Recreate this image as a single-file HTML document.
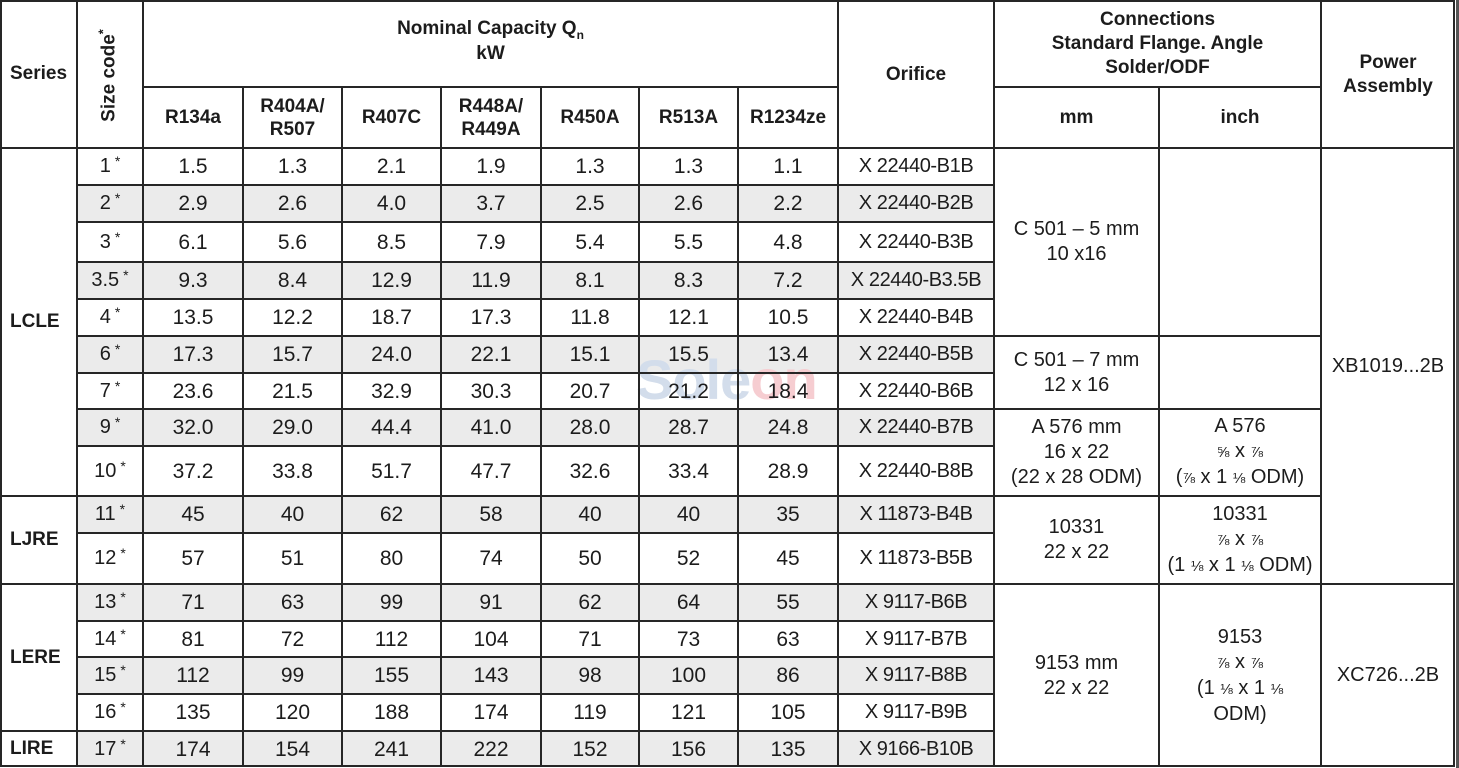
<!DOCTYPE html>
<html><head><meta charset="utf-8">
<style>
html,body{margin:0;padding:0}
body{width:1459px;height:768px;background:#fff;position:relative;overflow:hidden;font-family:"Liberation Sans",sans-serif;color:#1c1c1c}
.hl{position:absolute;height:2px;background:#262626}
.vl{position:absolute;width:2px;background:#262626}
.g{position:absolute;left:77px;width:917px;background:#ebebeb}
.r{position:absolute;left:0;width:1459px}
.r>div{position:absolute;top:0;height:100%;display:flex;align-items:center;justify-content:center;text-align:center;font-size:21px;line-height:25px}
.k1{left:77px;width:66px}
.k2{left:143px;width:100px}
.k3{left:243px;width:99px}
.k4{left:342px;width:99px}
.k5{left:441px;width:100px}
.k6{left:541px;width:98px}
.k7{left:639px;width:99px}
.k8{left:738px;width:100px}
.r>div.k9{left:838px;width:156px;font-size:20px;letter-spacing:-0.4px}
.r>div.k1{font-size:20px}
i{font-style:normal;font-size:14px;position:relative;top:-5px;margin-left:4px}
.c{position:absolute;display:flex;align-items:center;justify-content:center;text-align:center;font-size:20px;line-height:25px}
.c>div{white-space:nowrap}
.h{font-weight:bold;font-size:19px;line-height:23px}
.ser{position:absolute;left:10px;font-weight:bold;font-size:19px;display:flex;align-items:center}
.fr{font-size:15px}
</style></head><body>

<!-- shading -->
<div class="g" style="top:185px;height:37px"></div>
<div class="g" style="top:262px;height:37px"></div>
<div class="g" style="top:336px;height:37px"></div>
<div class="g" style="top:409px;height:37px"></div>
<div class="g" style="top:496px;height:37px"></div>
<div class="g" style="top:584px;height:37px"></div>
<div class="g" style="top:657px;height:37px"></div>
<div class="g" style="top:731px;height:36px"></div>

<!-- watermark -->
<div style="position:absolute;left:636px;top:350px;font-size:56px;line-height:60px;font-weight:bold;letter-spacing:-1px"><span style="color:#d3ddeb">Sole</span><span style="color:#f6cdd1">on</span></div>

<!-- right dark strip -->
<div style="position:absolute;left:1456px;top:0;width:3px;height:768px;background:#555"></div>

<!-- vertical lines -->
<div class="vl" style="left:0;top:0;height:767px"></div>
<div class="vl" style="left:76px;top:0;height:767px"></div>
<div class="vl" style="left:142px;top:0;height:767px"></div>
<div class="vl" style="left:242px;top:87px;height:680px"></div>
<div class="vl" style="left:341px;top:87px;height:680px"></div>
<div class="vl" style="left:440px;top:87px;height:680px"></div>
<div class="vl" style="left:540px;top:87px;height:680px"></div>
<div class="vl" style="left:638px;top:87px;height:680px"></div>
<div class="vl" style="left:737px;top:87px;height:680px"></div>
<div class="vl" style="left:837px;top:0;height:767px"></div>
<div class="vl" style="left:993px;top:0;height:767px"></div>
<div class="vl" style="left:1158px;top:87px;height:680px"></div>
<div class="vl" style="left:1320px;top:0;height:767px"></div>
<div class="vl" style="left:1453px;top:0;height:767px"></div>

<!-- horizontal lines -->
<div class="hl" style="left:0;top:0;width:1455px"></div>
<div class="hl" style="left:143px;top:86px;width:695px"></div>
<div class="hl" style="left:994px;top:86px;width:327px"></div>
<div class="hl" style="left:0;top:147px;width:1455px"></div>
<div class="hl" style="left:76px;top:184px;width:918px"></div>
<div class="hl" style="left:76px;top:221px;width:918px"></div>
<div class="hl" style="left:76px;top:261px;width:918px"></div>
<div class="hl" style="left:76px;top:298px;width:918px"></div>
<div class="hl" style="left:76px;top:335px;width:1245px"></div>
<div class="hl" style="left:76px;top:372px;width:918px"></div>
<div class="hl" style="left:76px;top:408px;width:1245px"></div>
<div class="hl" style="left:76px;top:445px;width:918px"></div>
<div class="hl" style="left:0;top:495px;width:1321px"></div>
<div class="hl" style="left:76px;top:532px;width:918px"></div>
<div class="hl" style="left:0;top:583px;width:1455px"></div>
<div class="hl" style="left:76px;top:620px;width:918px"></div>
<div class="hl" style="left:76px;top:656px;width:918px"></div>
<div class="hl" style="left:76px;top:693px;width:918px"></div>
<div class="hl" style="left:0;top:730px;width:994px"></div>
<div class="hl" style="left:0;top:765px;width:1455px"></div>

<!-- header -->
<div class="ser" style="top:0;height:148px">Series</div>
<div class="h" style="position:absolute;left:60px;top:63px;width:100px;height:25px;text-align:center;transform:rotate(-90deg);white-space:nowrap">Size code<span style="font-size:13px;position:relative;top:-7px">*</span></div>
<div class="c h" style="left:143px;top:14px;width:695px;height:54px;flex-direction:column">
<div>Nominal Capacity Q<span style="font-size:12px;position:relative;top:5px">n</span></div><div>kW</div></div>
<div class="c h" style="left:143px;top:87px;width:100px;height:61px"><div>R134a</div></div>
<div class="c h" style="left:243px;top:87px;width:99px;height:61px"><div>R404A/<br>R507</div></div>
<div class="c h" style="left:342px;top:87px;width:99px;height:61px"><div>R407C</div></div>
<div class="c h" style="left:441px;top:87px;width:100px;height:61px"><div>R448A/<br>R449A</div></div>
<div class="c h" style="left:541px;top:87px;width:98px;height:61px"><div>R450A</div></div>
<div class="c h" style="left:639px;top:87px;width:99px;height:61px"><div>R513A</div></div>
<div class="c h" style="left:738px;top:87px;width:100px;height:61px"><div>R1234ze</div></div>
<div class="c h" style="left:838px;top:0;width:156px;height:148px"><div>Orifice</div></div>
<div class="c h" style="left:994px;top:4px;width:327px;height:80px;line-height:24px"><div>Connections<br>Standard Flange. Angle<br>Solder/ODF</div></div>
<div class="c h" style="left:994px;top:87px;width:165px;height:61px"><div>mm</div></div>
<div class="c h" style="left:1159px;top:87px;width:162px;height:61px"><div>inch</div></div>
<div class="c h" style="left:1321px;top:0;width:134px;height:150px;line-height:24px"><div>Power<br>Assembly</div></div>

<!-- series labels -->
<div class="ser" style="top:148px;height:348px">LCLE</div>
<div class="ser" style="top:496px;height:88px">LJRE</div>
<div class="ser" style="top:584px;height:147px">LERE</div>
<div class="ser" style="top:731px;height:36px">LIRE</div>

<!-- rows -->
<div class="r" style="top:148px;height:37px"><div class="k1">1<i>*</i></div><div class="k2">1.5</div><div class="k3">1.3</div><div class="k4">2.1</div><div class="k5">1.9</div><div class="k6">1.3</div><div class="k7">1.3</div><div class="k8">1.1</div><div class="k9">X 22440-B1B</div></div>
<div class="r" style="top:185px;height:37px"><div class="k1">2<i>*</i></div><div class="k2">2.9</div><div class="k3">2.6</div><div class="k4">4.0</div><div class="k5">3.7</div><div class="k6">2.5</div><div class="k7">2.6</div><div class="k8">2.2</div><div class="k9">X 22440-B2B</div></div>
<div class="r" style="top:222px;height:40px"><div class="k1">3<i>*</i></div><div class="k2">6.1</div><div class="k3">5.6</div><div class="k4">8.5</div><div class="k5">7.9</div><div class="k6">5.4</div><div class="k7">5.5</div><div class="k8">4.8</div><div class="k9">X 22440-B3B</div></div>
<div class="r" style="top:262px;height:37px"><div class="k1">3.5<i>*</i></div><div class="k2">9.3</div><div class="k3">8.4</div><div class="k4">12.9</div><div class="k5">11.9</div><div class="k6">8.1</div><div class="k7">8.3</div><div class="k8">7.2</div><div class="k9">X 22440-B3.5B</div></div>
<div class="r" style="top:299px;height:37px"><div class="k1">4<i>*</i></div><div class="k2">13.5</div><div class="k3">12.2</div><div class="k4">18.7</div><div class="k5">17.3</div><div class="k6">11.8</div><div class="k7">12.1</div><div class="k8">10.5</div><div class="k9">X 22440-B4B</div></div>
<div class="r" style="top:336px;height:37px"><div class="k1">6<i>*</i></div><div class="k2">17.3</div><div class="k3">15.7</div><div class="k4">24.0</div><div class="k5">22.1</div><div class="k6">15.1</div><div class="k7">15.5</div><div class="k8">13.4</div><div class="k9">X 22440-B5B</div></div>
<div class="r" style="top:373px;height:36px"><div class="k1">7<i>*</i></div><div class="k2">23.6</div><div class="k3">21.5</div><div class="k4">32.9</div><div class="k5">30.3</div><div class="k6">20.7</div><div class="k7">21.2</div><div class="k8">18.4</div><div class="k9">X 22440-B6B</div></div>
<div class="r" style="top:409px;height:37px"><div class="k1">9<i>*</i></div><div class="k2">32.0</div><div class="k3">29.0</div><div class="k4">44.4</div><div class="k5">41.0</div><div class="k6">28.0</div><div class="k7">28.7</div><div class="k8">24.8</div><div class="k9">X 22440-B7B</div></div>
<div class="r" style="top:446px;height:50px"><div class="k1">10<i>*</i></div><div class="k2">37.2</div><div class="k3">33.8</div><div class="k4">51.7</div><div class="k5">47.7</div><div class="k6">32.6</div><div class="k7">33.4</div><div class="k8">28.9</div><div class="k9">X 22440-B8B</div></div>
<div class="r" style="top:496px;height:37px"><div class="k1">11<i>*</i></div><div class="k2">45</div><div class="k3">40</div><div class="k4">62</div><div class="k5">58</div><div class="k6">40</div><div class="k7">40</div><div class="k8">35</div><div class="k9">X 11873-B4B</div></div>
<div class="r" style="top:533px;height:51px"><div class="k1">12<i>*</i></div><div class="k2">57</div><div class="k3">51</div><div class="k4">80</div><div class="k5">74</div><div class="k6">50</div><div class="k7">52</div><div class="k8">45</div><div class="k9">X 11873-B5B</div></div>
<div class="r" style="top:584px;height:37px"><div class="k1">13<i>*</i></div><div class="k2">71</div><div class="k3">63</div><div class="k4">99</div><div class="k5">91</div><div class="k6">62</div><div class="k7">64</div><div class="k8">55</div><div class="k9">X 9117-B6B</div></div>
<div class="r" style="top:621px;height:36px"><div class="k1">14<i>*</i></div><div class="k2">81</div><div class="k3">72</div><div class="k4">112</div><div class="k5">104</div><div class="k6">71</div><div class="k7">73</div><div class="k8">63</div><div class="k9">X 9117-B7B</div></div>
<div class="r" style="top:657px;height:37px"><div class="k1">15<i>*</i></div><div class="k2">112</div><div class="k3">99</div><div class="k4">155</div><div class="k5">143</div><div class="k6">98</div><div class="k7">100</div><div class="k8">86</div><div class="k9">X 9117-B8B</div></div>
<div class="r" style="top:694px;height:37px"><div class="k1">16<i>*</i></div><div class="k2">135</div><div class="k3">120</div><div class="k4">188</div><div class="k5">174</div><div class="k6">119</div><div class="k7">121</div><div class="k8">105</div><div class="k9">X 9117-B9B</div></div>
<div class="r" style="top:731px;height:36px"><div class="k1">17<i>*</i></div><div class="k2">174</div><div class="k3">154</div><div class="k4">241</div><div class="k5">222</div><div class="k6">152</div><div class="k7">156</div><div class="k8">135</div><div class="k9">X 9166-B10B</div></div>

<!-- merged connection cells -->
<div class="c" style="left:994px;top:148px;width:165px;height:188px"><div>C 501 – 5 mm<br>10 x16</div></div>
<div class="c" style="left:994px;top:336px;width:165px;height:73px"><div>C 501 – 7 mm<br>12 x 16</div></div>
<div class="c" style="left:994px;top:409px;width:165px;height:87px"><div>A 576 mm<br>16 x 22<br>(22 x 28 ODM)</div></div>
<div class="c" style="left:1159px;top:409px;width:162px;height:87px"><div>A 576<br><span class="fr">⅝</span> x <span class="fr">⅞</span><br>(<span class="fr">⅞</span> x 1 <span class="fr">⅛</span> ODM)</div></div>
<div class="c" style="left:994px;top:496px;width:165px;height:88px"><div>10331<br>22 x 22</div></div>
<div class="c" style="left:1159px;top:496px;width:162px;height:88px"><div>10331<br><span class="fr">⅞</span> x <span class="fr">⅞</span><br>(1 <span class="fr">⅛</span> x 1 <span class="fr">⅛</span> ODM)</div></div>
<div class="c" style="left:994px;top:584px;width:165px;height:183px"><div>9153 mm<br>22 x 22</div></div>
<div class="c" style="left:1159px;top:584px;width:162px;height:183px"><div>9153<br><span class="fr">⅞</span> x <span class="fr">⅞</span><br>(1 <span class="fr">⅛</span> x 1 <span class="fr">⅛</span><br>ODM)</div></div>
<div class="c" style="left:1321px;top:148px;width:134px;height:436px"><div>XB1019...2B</div></div>
<div class="c" style="left:1321px;top:584px;width:134px;height:183px"><div>XC726...2B</div></div>

</body></html>
